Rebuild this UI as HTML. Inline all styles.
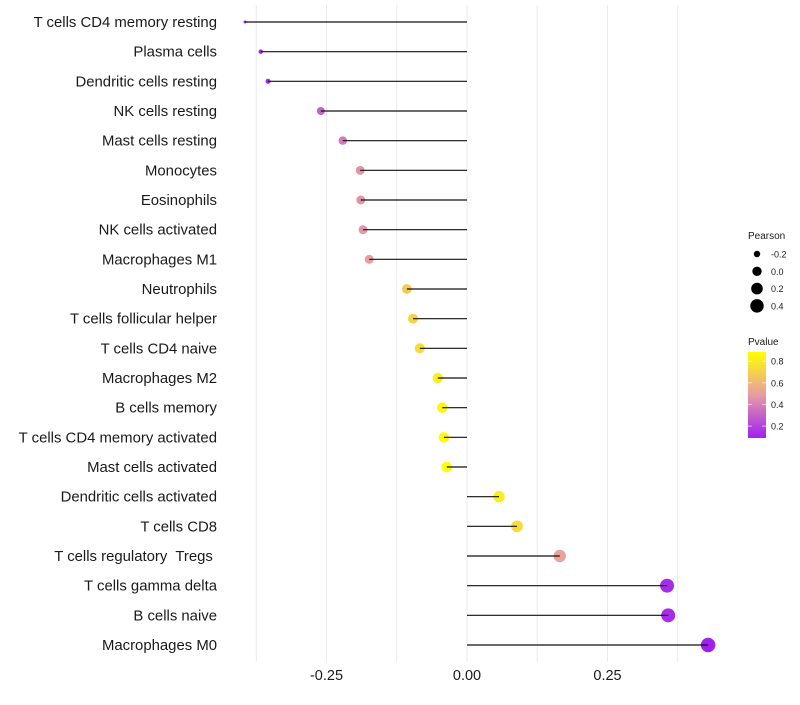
<!DOCTYPE html>
<html><head><meta charset="utf-8"><style>
body{margin:0;background:#fff;font-family:"Liberation Sans",sans-serif}
svg text{font-family:"Liberation Sans",sans-serif;white-space:pre}
</style></head><body>
<svg id="chart" width="800" height="700"></svg>
<script>
const categories=["T cells CD4 memory resting","Plasma cells","Dendritic cells resting","NK cells resting","Mast cells resting","Monocytes","Eosinophils","NK cells activated","Macrophages M1","Neutrophils","T cells follicular helper","T cells CD4 naive","Macrophages M2","B cells memory","T cells CD4 memory activated","Mast cells activated","Dendritic cells activated","T cells CD8","T cells regulatory  Tregs ","T cells gamma delta","B cells naive","Macrophages M0"];
const pearson=[-0.395,-0.367,-0.354,-0.260,-0.221,-0.190,-0.189,-0.185,-0.174,-0.107,-0.096,-0.084,-0.052,-0.044,-0.041,-0.036,0.057,0.089,0.165,0.356,0.358,0.429];
const pvalues=[0.10,0.12,0.13,0.30,0.38,0.46,0.46,0.47,0.50,0.68,0.71,0.75,0.82,0.84,0.86,0.88,0.82,0.74,0.52,0.13,0.13,0.09];
const xTicks=[-0.25,0,0.25];
const xTickLabels=["-0.25","0.00","0.25"];
const xMinor=[-0.375,-0.125,0.125,0.375];
const sizeLegend=[-0.2,0,0.2,0.4];
const pLegend=[0.2,0.4,0.6,0.8];

const NS="http://www.w3.org/2000/svg";
const svg=document.getElementById('chart');
function el(t,a,p){const e=document.createElementNS(NS,t);for(const k in a)e.setAttribute(k,a[k]);(p||svg).appendChild(e);return e;}
const x=v=>467+v*562;
const y=i=>22+i*(623/21);
function r(v){const a=v>=-0.26?16+53*(v+0.26):16-102*(-0.26-v);return Math.sqrt(Math.max(2.25,a));}
function rl(v){return Math.sqrt(Math.max(2.25,22+58*v));}
function lerp(a,b,t){return a.map((c,i)=>Math.round(c+(b[i]-c)*t));}
function col(p){const lo=0.09,hi=0.885;let t=(p-lo)/(hi-lo);t=Math.max(0,Math.min(1,t));
 const P=[160,32,240],M=[230,156,165],Y=[255,255,0];
 const c=t<0.5?lerp(P,M,t/0.5):lerp(M,Y,(t-0.5)/0.5);return `rgb(${c})`;}

[...xMinor,...xTicks].forEach(v=>{const g=el('line',{x1:x(v),x2:x(v),y1:5,y2:662,stroke:'#ebebeb','stroke-width':1});

});
xTicks.forEach((v,i)=>{const t=el('text',{x:x(v),y:680,'text-anchor':'middle','font-size':14.5,fill:'#1a1a1a'});t.textContent=xTickLabels[i];

});

categories.forEach((c,i)=>{
 const t=el('text',{x:217,y:y(i)+5,'text-anchor':'end','font-size':14.9,fill:'#1a1a1a'});t.textContent=c;
 
 
 const d=el('circle',{cx:x(pearson[i]),cy:y(i),r:r(pearson[i]),fill:col(pvalues[i])});
 
 
 const l=el('line',{x1:x(0),x2:x(pearson[i]),y1:y(i),y2:y(i),stroke:'#111','stroke-width':1.2});
 
 
});

const st=el('text',{x:748,y:239,'font-size':10,fill:'#1a1a1a'});st.textContent='Pearson';


sizeLegend.forEach((v,i)=>{const cy=254+i*17.3;
 const c=el('circle',{cx:757,cy:cy,r:rl(v),fill:'#000'});
 
 
 const t=el('text',{x:771,y:cy+3.5,'font-size':9,fill:'#1a1a1a'});t.textContent=v.toFixed(1);
 
 });

const ct=el('text',{x:748,y:345,'font-size':10,fill:'#1a1a1a'});ct.textContent='Pvalue';


const defs=el('defs',{});const lg=el('linearGradient',{id:'pg',x1:0,y1:1,x2:0,y2:0},defs);
[0,0.25,0.5,0.75,1].forEach(s=>{const p=0.09+s*(0.885-0.09);el('stop',{offset:s,'stop-color':col(p)},lg);});
const bar=el('rect',{x:748,y:352,width:18,height:86,fill:'url(#pg)'});


pLegend.forEach(v=>{const cy=438-(v-0.09)*108.2;
 el('line',{x1:748,x2:752,y1:cy,y2:cy,stroke:'#fff','stroke-opacity':0.6});
 el('line',{x1:762,x2:766,y1:cy,y2:cy,stroke:'#fff','stroke-opacity':0.6});
 const t=el('text',{x:771,y:cy+3.5,'font-size':9,fill:'#1a1a1a'});t.textContent=v.toFixed(1);
 
 });
</script>
</body></html>
